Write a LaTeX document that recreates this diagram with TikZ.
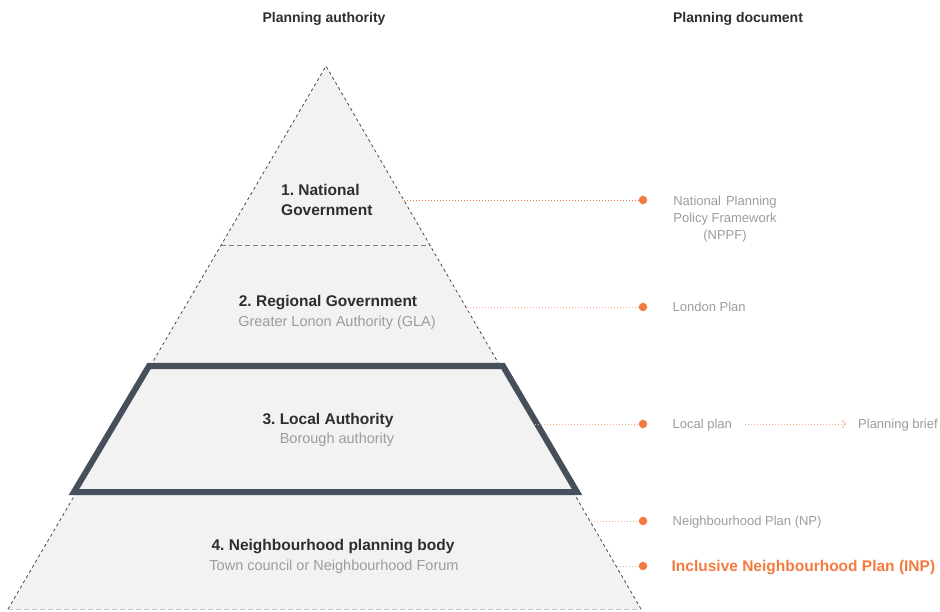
\documentclass[tikz,border=0pt]{standalone}
\usepackage{fontspec}
\setmainfont{Liberation Sans}
\usetikzlibrary{positioning,arrows.meta}
\definecolor{slate}{HTML}{474F5C}
\definecolor{tierfill}{HTML}{F2F2F2}
\definecolor{textmain}{HTML}{2E2E2E}
\definecolor{textsub}{HTML}{9C9C9C}
\definecolor{accent}{HTML}{F47B3F}
\definecolor{accentlight}{HTML}{F6B48F}
\definecolor{edgegray}{HTML}{4A4A4A}
\frenchspacing

\tikzset{
  heading/.style={font=\fontsize{14}{17}\selectfont\bfseries, text=textmain, inner sep=0pt, text height=10pt, text depth=0pt},
  tiertitle/.style={font=\fontsize{15.5}{20}\selectfont\bfseries, text=textmain, inner sep=0pt},
  tiersub/.style={font=\fontsize{14.5}{18}\selectfont, text=textsub, inner sep=0pt, text height=10.4pt, text depth=0pt},
  doclabel/.style={font=\fontsize{13}{17}\selectfont, text=textsub, inner sep=0pt, text height=9.3pt, text depth=0pt},
  docdot/.style={circle, fill=accent, minimum size=8.5pt, inner sep=0pt},
  leader/.style={accent, line width=0.8pt, dash pattern=on 1.2pt off 1.8pt},
  leaderlight/.style={accentlight, line width=0.8pt, dash pattern=on 1.2pt off 1.8pt},
  pyramidedge/.style={edgegray, line width=0.8pt, dash pattern=on 3pt off 3pt},
  tierline/.style={gray, line width=0.9pt, dash pattern=on 5pt off 3pt}
}

\begin{document}
\begin{tikzpicture}[x=1pt, y=-1pt]

\useasboundingbox (0,0) rectangle (940,612);

% Column headings
\node[heading] (authhead) at (324, 18) {Planning authority};
\node[heading] (dochead) at (738, 18) {Planning document};

% Pyramid
\fill[tierfill] (326,66) -- (641,609) -- (8,609) -- cycle;
\draw[pyramidedge] (8,609) -- (326,66) -- (641,609);
\draw[tierline] (221,245) -- (431,245);
\draw[tierline, gray!45] (8,609) -- (641,609);

% Tier 3 highlighted
\draw[slate, line width=6pt, line join=miter, fill=tierfill] (149,366) -- (503,366) -- (577,492) -- (74,492) -- cycle;

% Tier labels
\node[tiertitle, anchor=north west, align=left] (national) at (281, 184.5) {1. National\\Government};

\node[tiertitle, text height=11.1pt, text depth=0pt] (regional) at (328, 301) {2. Regional Government};
\node[tiersub] (regionalsub) at (337, 321) {Greater Lonon Authority (GLA)};

\node[tiertitle, text height=11.1pt, text depth=0pt] (local) at (328, 419) {3. Local Authority};
\node[tiersub] (localsub) at (337, 438) {Borough authority};

\node[tiertitle, text height=11.1pt, text depth=0pt] (neighbour) at (333, 545) {4. Neighbourhood planning body};
\node[tiersub] (neighboursub) at (334, 565) {Town council or Neighbourhood Forum};

% Edge points on the pyramid
\coordinate (natedge) at (404, 200);
\coordinate (regedge) at (467, 307);
\coordinate (locedge) at (535, 424);
\coordinate (npedge) at (591, 521);
\coordinate (inpedge) at (617, 566);

% Dots
\node[docdot] (natdot) at (643, 200) {};
\node[docdot] (regdot) at (643, 307) {};
\node[docdot] (locdot) at (643, 424) {};
\node[docdot] (npdot) at (643, 521) {};
\node[docdot] (inpdot) at (643, 566) {};

% Planning documents
\node[font=\fontsize{13}{17}\selectfont, text=textsub, inner sep=0pt, align=center, anchor=north] (nppf) at (725, 195.5) {National\hspace{5pt}Planning\\Policy Framework\\(NPPF)};
\node[doclabel, right=25pt of regdot] (londonplan) {London Plan};
\node[doclabel, right=25pt of locdot] (localplan) {Local plan};
\node[doclabel, anchor=west] (brief) at (858, 424) {Planning brief};
\node[doclabel, right=25pt of npdot] (np) {Neighbourhood Plan (NP)};
\node[font=\fontsize{15.5}{18}\selectfont\bfseries, text=accent, inner sep=0pt, text height=11.1pt, text depth=0pt, right=24pt of inpdot] (inp) {Inclusive Neighbourhood Plan (INP)};

% Leaders
\draw[leader] (natedge) -- (natdot);
\draw[leaderlight] (regedge) -- (regdot);
\draw[leaderlight] (locedge) -- (locdot);
\draw[leaderlight] (npedge) -- (npdot);
\draw[leaderlight] (inpedge) -- (inpdot);
\draw[leaderlight, -{Straight Barb[length=3.5pt, width=8pt]}, shorten <=13pt, shorten >=12pt] (localplan) -- (brief);

\end{tikzpicture}
\end{document}
